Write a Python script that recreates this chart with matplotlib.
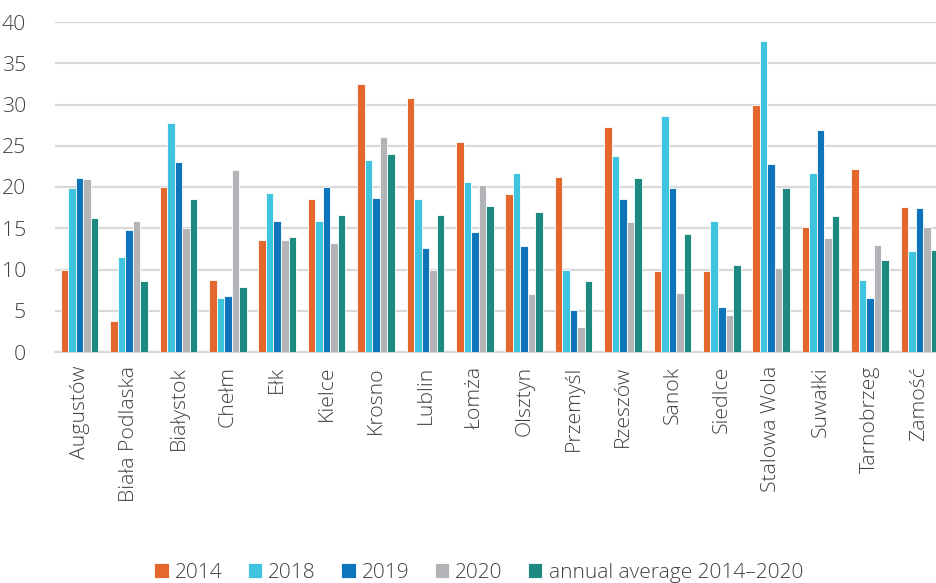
import matplotlib
matplotlib.use("Agg")
import matplotlib.pyplot as plt
import numpy as np

cities = ["Augustów", "Biała Podlaska", "Białystok", "Chełm", "Ełk", "Kielce",
          "Krosno", "Lublin", "Łomża", "Olsztyn", "Przemyśl", "Rzeszów", "Sanok",
          "Siedlce", "Stalowa Wola", "Suwałki", "Tarnobrzeg", "Zamość"]

v2014 = [10.0, 3.8, 20.0, 8.7, 13.6, 18.6, 32.5, 30.8, 25.5, 19.2, 21.2, 27.3, 9.8, 9.8, 30.0, 15.1, 22.2, 17.6]
v2018 = [19.9, 11.5, 27.7, 6.6, 19.3, 15.9, 23.3, 18.5, 20.6, 21.7, 10.0, 23.7, 28.6, 15.9, 37.7, 21.7, 8.7, 12.3]
v2019 = [21.05, 14.8, 23.0, 6.8, 15.9, 20.0, 18.7, 12.55, 14.5, 12.8, 5.1, 18.5, 19.9, 5.4, 22.8, 26.9, 6.5, 17.4]
v2020 = [21.0, 15.9, 15.0, 22.1, 13.6, 13.2, 26.1, 10.0, 20.3, 7.0, 3.0, 15.8, 7.1, 4.5, 10.2, 13.8, 13.0, 15.1]
vavg = [16.2, 8.6, 18.6, 7.9, 13.9, 16.6, 24.0, 16.6, 17.7, 17.0, 8.6, 21.1, 14.3, 10.6, 19.9, 16.5, 11.2, 12.35]

series_labels = ["2014", "2018", "2019", "2020", "annual average 2014\u20132020"]
colors = ["#E4672D", "#3EC4DF", "#0E74BB", "#B3B4B7", "#1C8A81"]

plt.rcParams['font.family'] = ['Open Sans', 'DejaVu Sans']

W, H = 937, 583
fig = plt.figure(figsize=(W / 100, H / 100), dpi=100)
left = 55 / W
right = 944 / W
bottom = 1 - 352 / H
top = 1 - 22 / H
ax = fig.add_axes([left, bottom, right - left, top - bottom])

x = np.arange(len(cities))
bw = 0.152
data = [v2014, v2018, v2019, v2020, vavg]
for i, (vals, c, lab) in enumerate(zip(data, colors, series_labels)):
    ax.bar(x + (i - 2) * bw, vals, width=bw, color=c, edgecolor="white",
           linewidth=0.6, label=lab, zorder=3)

ax.set_xlim(-0.5, len(cities) - 0.5)
ax.set_ylim(0, 40)
ax.set_yticks(range(0, 41, 5))
ax.yaxis.grid(True, color="#D9D9D9", linewidth=1.6, zorder=0)
ax.set_axisbelow(True)
for s in ["left", "right", "top"]:
    ax.spines[s].set_visible(False)
ax.spines["bottom"].set_color("#D9D9D9")
ax.spines["bottom"].set_linewidth(1.6)
ax.tick_params(axis="both", length=0, colors="#404040", labelsize=15.3)
ax.tick_params(axis="y", pad=21)
ax.tick_params(axis="x", pad=10)
ax.set_xticks(x)
ax.set_xticklabels(cities, rotation=90, fontweight="light")
for t in ax.get_yticklabels():
    t.set_fontweight("light")

handles, labels = ax.get_legend_handles_labels()
leg = fig.legend(handles, labels, loc="center", bbox_to_anchor=(0.5 + 10 / W, 1 - 573 / H),
                 ncol=5, frameon=False, handlelength=0.7, handleheight=0.75,
                 handletextpad=0.3, columnspacing=1.2,
                 prop={"size": 15, "weight": "light"})
for t in leg.get_texts():
    t.set_color("#404040")

fig.savefig("out.png", dpi=100)
